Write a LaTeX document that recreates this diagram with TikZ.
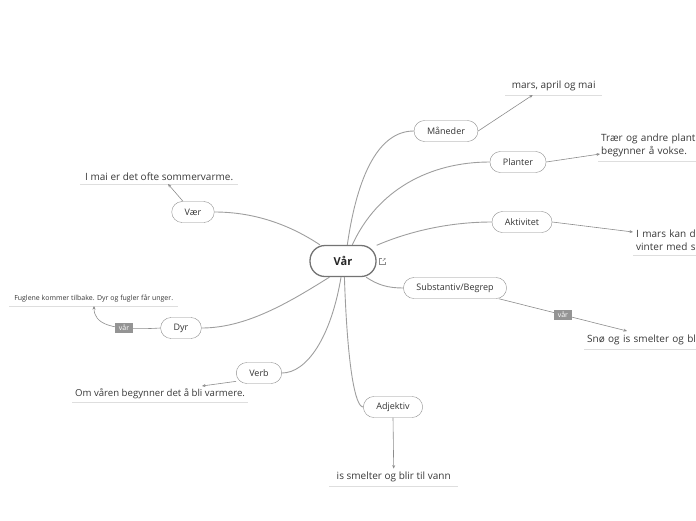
\documentclass[tikz,border=0pt]{standalone}
\usepackage{fontspec}
\setmainfont{Open Sans}
\usetikzlibrary{arrows.meta}

\begin{document}
\begin{tikzpicture}[x=1pt, y=-1pt,
    font=\fontsize{9}{11}\selectfont,
    central/.style={draw=black!55, line width=1.3pt, fill=white,
                    rounded corners=15pt, minimum width=66pt, minimum height=31pt,
                    font=\fontsize{11}{13}\selectfont\bfseries, text=black!85},
    topic/.style={draw=black!45, fill=white, rounded corners=10.5pt,
                  minimum height=21pt, inner xsep=13pt, inner ysep=2pt, text=black!80},
    leaf/.style={anchor=south west, inner xsep=3pt, inner ysep=3.5pt, align=left,
                 text=black!78, font=\fontsize{10}{13.5}\selectfont,
                 append after command={(\tikzlastnode.south west)
                   edge[draw=black!13, line width=1pt] (\tikzlastnode.south east)}},
    tag/.style={fill=black!42, text=white, font=\fontsize{7}{8}\selectfont,
                inner xsep=3.5pt, inner ysep=2pt},
    branch/.style={draw=black!38, line width=0.9pt},
    link/.style={draw=black!45, line width=0.6pt, -{Stealth[length=3.5pt, width=3pt]}},
  ]
  \useasboundingbox (0,0) rectangle (696,520);
  \clip (0,0) rectangle (696,520);
  % ---- centre and topics ----
  \node[central] (vaar)   at (343,261) {Vår};
  \node[topic]   (maaned) at (446,131) {Måneder};
  \node[topic]   (planter) at (518,162) {Planter};
  \node[topic]   (aktiv)  at (522,222) {Aktivitet};
  \node[topic]   (subst)  at (455,288) {Substantiv/Begrep};
  \node[topic]   (adj)    at (393,407) {Adjektiv};
  \node[topic]   (verb)   at (259,373) {Verb};
  \node[topic]   (dyr)    at (181,328) {Dyr};
  \node[topic]   (vaer)   at (193,212) {Vær};
  % ---- leaf texts ----
  \node[leaf, minimum width=97pt, align=center] (mars) at (505,95) {mars, april og mai};
  \node[leaf, text width=130pt] (traer) at (598,161) {Trær og andre planter\\begynner å vokse.};
  \node[leaf, text width=130pt] (imars) at (633,255) {I mars kan det være\\vinter med snø.};
  \node[leaf, text width=170pt] (snoe)  at (584,349) {Snø og is smelter og blir til vann.};
  \node[leaf, minimum width=129pt, align=center] (iss) at (329,486) {is smelter og blir til vann};
  \node[leaf, minimum width=175pt, align=center, font=\fontsize{9.6}{12}\selectfont]
    (om) at (72,402) {Om våren begynner det å bli varmere.};
  \node[leaf, minimum width=169pt, align=center, font=\fontsize{7}{8}\selectfont]
    (fugl) at (9,306) {Fuglene kommer tilbake. Dyr og fugler får unger.};
  \node[leaf, minimum width=158pt, align=center] (imai) at (80,184) {I mai er det ofte sommervarme.};
  % ---- branches from the centre ----
  \draw[branch] (vaar.75)   .. controls +(10,-70) and +(-35,0) .. (maaned.west);
  \draw[branch] (vaar.60)   .. controls +(25,-55) and +(-60,0) .. (planter.west);
  \draw[branch] (vaar.25)   .. controls +(35,-15) and +(-40,0) .. (aktiv.west);
  \draw[branch] (vaar.-35)  .. controls +(12,8)   and +(-15,0) .. (subst.west);
  \draw[branch] (vaar.-85)  .. controls +(3,90)   and +(-8,0)  .. (adj.west);
  \draw[branch] (vaar.-97)  .. controls +(-10,60) and +(25,0)  .. (verb.east);
  \draw[branch] (vaar.-130) .. controls +(-40,25) and +(45,0)  .. (dyr.east);
  \draw[branch] (vaar.145)  .. controls +(-30,-20) and +(40,0) .. (vaer.east);
  % ---- links to the texts ----
  \draw[link] (maaned.east) -- ([xshift=-21pt]mars.south);
  \draw[link] (planter.east) -- ([xshift=2pt, yshift=7pt]traer.south west);
  \draw[link] (aktiv.east) -- ([yshift=23pt]imars.south west);
  \draw[link] ([xshift=-8pt]subst.south east) -- ([xshift=43pt, yshift=18pt]snoe.south west)
      node[tag, pos=0.5] {vår};
  \draw[link] (adj.south) -- (iss.north);
  \draw[link] (verb.200) -- ([xshift=130pt, yshift=16pt]om.south west);
  \draw[link] (dyr.west) .. controls +(-50,3) and +(0,18) .. ([xshift=85pt]fugl.south west)
      node[tag, pos=0.3] {vår};
  \draw[link] ([xshift=-10pt]vaer.north) -- ([xshift=88pt]imai.south west);
  % ---- link icon ----
  \begin{scope}[shift={([xshift=6pt]vaar.east)}, draw=black!45, line width=0.5pt]
    \draw (-0.5,-3) -- (-3,-3) -- (-3,3) -- (3,3) -- (3,0.5);
    \draw[-{Stealth[length=2pt, width=2pt]}] (0,0) -- (3,-3);
  \end{scope}
\end{tikzpicture}
\end{document}
